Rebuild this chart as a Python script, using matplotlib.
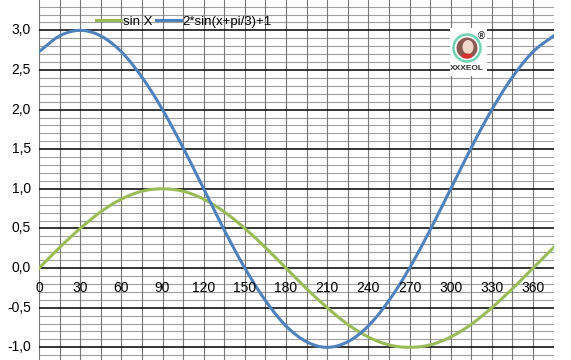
import numpy as np
import matplotlib.pyplot as plt
from matplotlib.patches import Rectangle, Ellipse
from matplotlib.transforms import blended_transform_factory

# readings from the chart (x in degrees, step 15)
x_deg = [0, 15, 30, 45, 60, 75, 90, 105, 120, 135, 150, 165, 180,
         195, 210, 225, 240, 255, 270, 285, 300, 315, 330, 345, 360, 375]
sin_x = [0.0, 0.26, 0.5, 0.71, 0.87, 0.97, 1.0, 0.97, 0.87, 0.71, 0.5, 0.26, 0.0,
         -0.26, -0.5, -0.71, -0.87, -0.97, -1.0, -0.97, -0.87, -0.71, -0.5, -0.26, 0.0, 0.26]
shifted = [2.73, 2.93, 3.0, 2.93, 2.73, 2.41, 2.0, 1.52, 1.0, 0.48, 0.0, -0.41, -0.73,
           -0.93, -1.0, -0.93, -0.73, -0.41, 0.0, 0.48, 1.0, 1.52, 2.0, 2.41, 2.73, 2.93]
x_labels = [0, 30, 60, 90, 120, 150, 180, 210, 240, 270, 300, 330, 360]
y_labels = [3.0, 2.5, 2.0, 1.5, 1.0, 0.5, 0.0, -0.5, -1.0]

plt.rcParams['font.family'] = ['Liberation Sans', 'DejaVu Sans']


def smooth(xs, ys, n=12):
    # Catmull-Rom drawing between the points, like Excel's smoothed line
    xs = np.asarray(xs, float)
    ys = np.asarray(ys, float)
    px = np.concatenate([[2 * xs[0] - xs[1]], xs, [2 * xs[-1] - xs[-2]]])
    py = np.concatenate([[2 * ys[0] - ys[1]], ys, [2 * ys[-1] - ys[-2]]])
    t = np.linspace(0, 1, n, endpoint=False)
    ox, oy = [], []
    for i in range(1, len(px) - 2):
        for arr, out in ((px, ox), (py, oy)):
            p0, p1, p2, p3 = arr[i - 1:i + 3]
            out.extend(0.5 * (2 * p1 + (-p0 + p2) * t + (2 * p0 - 5 * p1 + 4 * p2 - p3) * t ** 2
                              + (-p0 + 3 * p1 - 3 * p2 + p3) * t ** 3))
    ox.append(xs[-1])
    oy.append(ys[-1])
    return ox, oy


fig = plt.figure(figsize=(5.71, 3.6), dpi=100)
ax = fig.add_axes([39 / 571, 0, (553.6 - 39) / 571, 1])
ax.set_xlim(0, 375)
ax.set_ylim(-1.16, 3.383)
for s in ax.spines.values():
    s.set_visible(False)
ax.set_xticks([])
ax.set_yticks([])

# grid
for k in range(-11, 34):
    yv = k / 10
    if k % 5 == 0:
        ax.axhline(yv, color='black', lw=1.1, zorder=1)
    else:
        ax.axhline(yv, color='#a0a0a0', lw=0.8, zorder=0)
for xv in range(0, 375, 15):
    ax.axvline(xv, color='#777777', lw=0.8, zorder=0)

ax.plot(*smooth(x_deg, sin_x), color='#9bbb59', lw=2.2, label='sin X', zorder=3)
ax.plot(*smooth(x_deg, shifted), color='#4f81bd', lw=2.2, label='2*sin(x+pi/3)+1', zorder=3)

for xl in x_labels:
    ax.annotate(str(xl), (xl, 0), xytext=(0, -19.5), textcoords='offset pixels',
                ha='center', va='center', fontsize=10, zorder=4)
ytrans = blended_transform_factory(fig.transFigure, ax.transData)
for yl in y_labels:
    fig.text(31 / 571, yl, ('%.1f' % yl).replace('.', ','), ha='right', va='center',
             fontsize=10, transform=ytrans)

fig.legend(loc='center left', bbox_to_anchor=(96 / 571, 1 - 22 / 360), ncol=2, frameon=False,
           fontsize=9.5, handlelength=1.9, handletextpad=0.12, columnspacing=0.3, borderpad=0,
           borderaxespad=0)

# logo
lx, ly = 467, 48
w = 1 / 571
h = 1 / 360


def fp(px, py):
    return (px / 571, 1 - py / 360)


fig.patches.append(Rectangle(fp(450, 76), 37 * w, 48 * h, transform=fig.transFigure,
                             facecolor='white', edgecolor='none', zorder=5))
fig.patches.append(Ellipse(fp(lx, ly), 27 * w, 27 * h, transform=fig.transFigure,
                           facecolor='white', edgecolor='#6fd3b2', lw=1.8, zorder=6))
fig.patches.append(Ellipse(fp(lx, ly), 21 * w, 21 * h, transform=fig.transFigure,
                           facecolor='#8a5a50', edgecolor='none', zorder=6))
fig.patches.append(Ellipse(fp(lx + 1, ly - 1), 11 * w, 14 * h, transform=fig.transFigure,
                           facecolor='#f0d8c8', edgecolor='none', zorder=7))
fig.patches.append(Ellipse(fp(lx, ly + 8), 11 * w, 5 * h, transform=fig.transFigure,
                           facecolor='#d83030', edgecolor='none', zorder=7))
fig.text(*fp(lx, 69), 'XXXEOL', ha='center', va='center', fontsize=6, fontweight='bold',
         color='#333333', zorder=8)
fig.text(*fp(481, 37), '®', ha='center', va='center', fontsize=7, fontweight='bold',
         color='#333333', zorder=8)

fig.savefig('out.png', dpi=100)
